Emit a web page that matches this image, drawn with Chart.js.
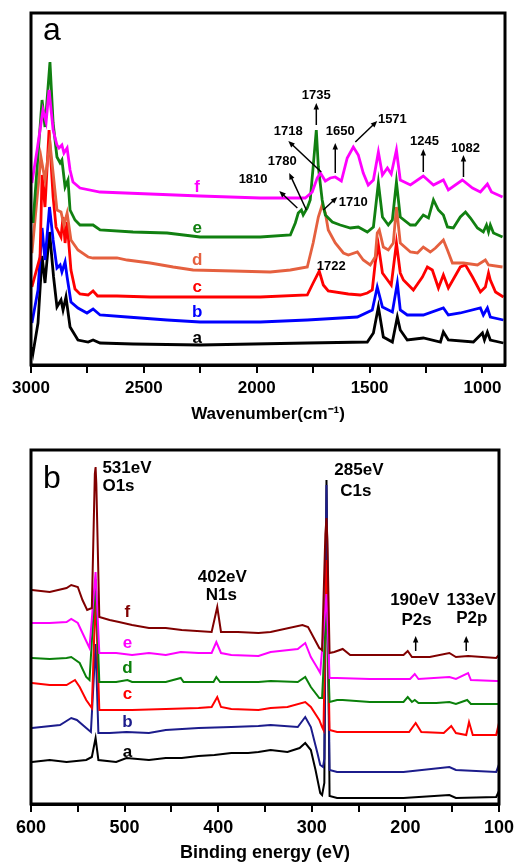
<!DOCTYPE html>
<html>
<head>
<meta charset="utf-8">
<script src="https://cdn.jsdelivr.net/npm/chart.js@4.4.0/dist/chart.umd.min.js"></script>
<style>
  body { margin: 0; background: #fff; }
  #wrap { position: relative; width: 519px; height: 864px; }
  canvas { position: absolute; left: 0; }
</style>
</head>
<body>
<div id="wrap">
  <canvas id="ftir" width="519" height="432" style="top:0"></canvas>
  <canvas id="xps" width="519" height="432" style="top:432px"></canvas>
</div>
<script>
// panel a: FTIR, [wavenumber, intensity (a.u.)]
const ftirA = [[2996,18],[2991,12],[2969,42],[2951,109],[2938,82],[2918,133],[2900,88],[2885,58],[2867,65],[2858,55],[2845,68],[2827,38],[2792,25],[2747,23],[2725,25],[2694,22],[2548,21],[2251,20],[1776,22],[1510,23],[1483,32],[1461,58],[1439,28],[1399,23],[1377,48],[1364,35],[1333,25],[1262,27],[1186,23],[1173,33],[1151,25],[1040,23],[1000,32],[991,25],[978,33],[965,25],[907,22]];
const ftirB = [[2996,42],[2969,75],[2951,137],[2938,105],[2918,158],[2902,125],[2885,97],[2871,100],[2863,93],[2849,103],[2840,88],[2823,63],[2792,57],[2752,52],[2725,56],[2694,50],[2574,48],[2397,45],[2251,43],[1984,43],[1776,45],[1554,48],[1488,55],[1466,78],[1443,58],[1399,53],[1377,82],[1364,55],[1333,50],[1262,50],[1173,57],[1151,50],[1098,52],[1009,57],[996,50],[978,57],[965,48],[907,45]];
const ftirC = [[2996,78],[2960,108],[2951,190],[2938,158],[2920,235],[2902,168],[2889,138],[2867,128],[2858,148],[2849,122],[2840,143],[2823,95],[2805,76],[2783,71],[2747,70],[2725,74],[2705,69],[2619,69],[2472,68],[2251,68],[1984,68],[1776,70],[1750,82],[1723,94],[1705,80],[1683,74],[1594,71],[1541,70],[1510,72],[1488,75],[1475,102],[1461,120],[1443,92],[1404,80],[1381,122],[1364,92],[1350,85],[1306,75],[1266,88],[1244,98],[1222,95],[1195,77],[1173,90],[1151,77],[1098,98],[1075,100],[1044,88],[1009,73],[987,78],[973,92],[965,85],[942,73],[907,68]];
const ftirD = [[2996,112],[2956,208],[2938,185],[2916,222],[2902,192],[2885,155],[2867,153],[2854,140],[2840,152],[2823,125],[2792,115],[2747,108],[2725,107],[2619,107],[2574,105],[2472,102],[2370,98],[2282,95],[2104,94],[1940,93],[1851,95],[1776,98],[1750,122],[1727,148],[1710,160],[1696,152],[1683,135],[1652,122],[1616,112],[1594,110],[1554,113],[1528,105],[1497,100],[1475,108],[1466,132],[1457,135],[1439,118],[1417,115],[1395,122],[1381,158],[1364,122],[1319,113],[1288,112],[1262,118],[1231,113],[1208,117],[1173,125],[1155,115],[1133,102],[1084,102],[1022,100],[987,105],[973,100],[911,98]];
const ftirE = [[2991,142],[2951,265],[2938,238],[2916,303],[2902,242],[2885,208],[2871,202],[2863,205],[2849,178],[2836,185],[2827,155],[2805,145],[2783,140],[2752,140],[2725,140],[2694,135],[2548,133],[2397,132],[2251,128],[1984,128],[1851,130],[1829,142],[1816,152],[1802,155],[1794,150],[1776,157],[1763,165],[1750,198],[1736,235],[1727,198],[1710,165],[1696,150],[1665,143],[1630,140],[1585,137],[1550,138],[1510,133],[1483,138],[1461,182],[1443,148],[1417,140],[1399,145],[1381,183],[1364,148],[1319,140],[1297,140],[1262,150],[1239,147],[1217,165],[1195,155],[1173,150],[1155,138],[1129,137],[1098,148],[1075,153],[1053,147],[1022,137],[996,133],[982,140],[973,133],[965,140],[951,132],[911,128]];
const ftirF = [[2996,182],[2973,215],[2947,255],[2933,243],[2920,275],[2902,235],[2885,220],[2876,217],[2863,220],[2854,212],[2840,217],[2827,195],[2814,183],[2783,177],[2694,173],[2472,171],[2251,169],[1984,167],[1785,167],[1754,173],[1732,187],[1718,192],[1696,184],[1674,187],[1652,188],[1625,184],[1599,207],[1572,218],[1550,210],[1528,192],[1506,180],[1483,185],[1461,213],[1443,190],[1421,197],[1404,191],[1381,215],[1364,185],[1319,180],[1262,189],[1217,180],[1173,185],[1151,175],[1089,185],[1044,177],[1009,173],[978,181],[960,173],[911,168]];
const ftirTicks = [3000, 2750, 2500, 2250, 2000, 1750, 1500, 1250, 1000];

// panel b: XPS survey, [binding energy eV, intensity (a.u.)]
const xpsA = [[599,42],[580,44],[562,42],[541,44],[535,47],[531,66],[528,44],[509,42],[498,46],[474,44],[456,46],[439,46],[421,48],[404,49],[386,51],[368,51],[357,52],[344,54],[326,52],[313,56],[307,61],[301,54],[296,34],[291,11],[289,9],[286.6,21],[284.3,324],[281,8],[273,6],[238,6],[202,6],[153,9],[146,6],[103,7],[101,11],[100,7]];
const xpsB = [[599,76],[569,79],[557,86],[551,84],[541,76],[536,72],[531,160],[528,71],[516,71],[498,72],[474,71],[456,74],[421,76],[386,77],[357,78],[344,79],[315,77],[307,87],[301,77],[294,51],[291,39],[288,37],[286.6,45],[284.3,319],[281,34],[273,32],[238,32],[202,32],[153,37],[146,34],[103,32],[101,37],[100,32]];
const xpsC = [[599,121],[580,119],[562,119],[553,124],[548,117],[541,104],[535,96],[531,210],[527,94],[509,94],[492,94],[456,95],[421,96],[407,97],[401,107],[397,97],[386,95],[357,94],[344,96],[326,97],[307,102],[301,97],[292,84],[289,77],[287.5,74],[284.3,244],[281,74],[273,72],[238,72],[196,72],[189,81],[183,72],[159,71],[151,78],[146,71],[135,69],[132,82],[128,69],[103,69],[101,77],[100,69]];
const xpsD = [[599,146],[580,145],[562,146],[557,147],[548,141],[541,127],[537.5,124],[531,225],[527,122],[509,122],[497,124],[492,122],[456,122],[440,126],[437,122],[405,122],[402,127],[398,122],[357,122],[344,123],[315,122],[307,127],[301,117],[292,106],[289,106],[284.3,200],[281,102],[273,104],[267,104],[238,102],[202,102],[197.5,107],[193,102],[190,104],[186,101],[167,101],[153,102],[146,100],[134,104],[130,100],[103,100],[100,100]];
const xpsE = [[599,181],[580,181],[562,182],[557,185],[550,181],[545,171],[541,163],[537.5,156],[531,232],[527,151],[509,151],[492,149],[474,151],[456,149],[440,152],[421,151],[407,151],[402,162],[397,151],[386,149],[357,148],[344,152],[315,155],[307,161],[301,147],[294,136],[291,131],[284.3,210],[281,126],[273,126],[238,125],[195,125],[190,130],[186,125],[153,127],[146,125],[133,131],[130,124],[103,123],[100,123]];
const xpsF = [[599,214],[580,212],[562,216],[557,219],[550,217],[545,204],[540,194],[535,196],[531.8,330],[531,337],[530.2,320],[527,187],[516,184],[506,182],[492,179],[474,176],[456,176],[439,174],[407,172],[401,197],[397,172],[379,172],[357,171],[344,172],[310,179],[304,177],[292,156],[289,154],[285.5,270],[284.3,286],[283.4,265],[281,151],[276,152],[267,155],[259,149],[238,149],[202,149],[197.5,153],[193,147],[174,147],[153,151],[146,147],[133,148],[103,146],[100,149]];
const xpsTicks = [600, 550, 500, 450, 400, 350, 300, 250, 200, 150, 100];

const FONT = "'Liberation Sans', Arial, Helvetica, sans-serif";
const pts = arr => arr.map(p => ({ x: p[0], y: p[1] }));

function drawArrow(ctx, x1, y1, x2, y2) {
    const a = Math.atan2(y2 - y1, x2 - x1), h = 7;
    ctx.beginPath();
    ctx.moveTo(x1, y1);
    ctx.lineTo(x2 - 4 * Math.cos(a), y2 - 4 * Math.sin(a));
    ctx.stroke();
    ctx.beginPath();
    ctx.moveTo(x2, y2);
    ctx.lineTo(x2 - h * Math.cos(a - 0.4), y2 - h * Math.sin(a - 0.4));
    ctx.lineTo(x2 - h * Math.cos(a + 0.4), y2 - h * Math.sin(a + 0.4));
    ctx.closePath();
    ctx.fill();
}

// frame, panel letter, peak labels, arrows, curve names
function overlay(letter, letterY, texts, arrows) {
    return {
        id: 'overlay',
        afterDatasetsDraw(chart) {
            const { ctx, chartArea: area, scales: { x, y } } = chart;
            ctx.save();
            ctx.strokeStyle = '#000';
            ctx.lineWidth = 3;
            ctx.strokeRect(area.left, area.top, area.right - area.left, area.bottom - area.top);
            ctx.fillStyle = '#000';
            ctx.textBaseline = 'alphabetic';
            ctx.textAlign = 'left';
            ctx.font = '32px ' + FONT;
            ctx.fillText(letter, area.left + 12, area.top + letterY);
            texts.forEach(t => {
                ctx.font = t.font;
                ctx.fillStyle = t.color || '#000';
                ctx.textAlign = t.align || 'center';
                ctx.fillText(t.text, x.getPixelForValue(t.x), y.getPixelForValue(t.y));
            });
            ctx.strokeStyle = '#000';
            ctx.fillStyle = '#000';
            ctx.lineWidth = 1.5;
            arrows.forEach(r => drawArrow(ctx,
                x.getPixelForValue(r[0]), y.getPixelForValue(r[1]),
                x.getPixelForValue(r[2]), y.getPixelForValue(r[3])));
            ctx.restore();
        }
    };
}

function xAxis(min, max, ticks, step, height, title, titlePad, size) {
    return {
        type: 'linear', reverse: true, min: min, max: max,
        afterBuildTicks: s => { s.ticks = ticks.map(v => ({ value: v })); },
        afterFit: s => { s.height = height; },
        ticks: {
            autoSkip: false, maxRotation: 0, padding: 5, color: '#000',
            font: { family: FONT, size: size, weight: 'bold' },
            callback: v => (v % step === 0 ? String(v) : '')
        },
        grid: { drawOnChartArea: false, drawTicks: true, tickLength: 8, color: '#000', lineWidth: 2 },
        border: { display: true, color: '#000', width: 3 },
        title: {
            display: true, text: title, color: '#000',
            font: { family: FONT, size: size, weight: 'bold' },
            padding: { top: 0, bottom: titlePad }
        }
    };
}

function line(data, color, width, order) {
    return { data: pts(data), borderColor: color, borderWidth: width, pointRadius: 0, fill: false, tension: 0, order: order };
}

const peakFont = 'bold 13px ' + FONT;
const nameFont = 'bold 17px ' + FONT;

const ftirTexts = [
    { text: '1735', x: 1736, y: 266, font: peakFont },
    { text: '1718', x: 1860, y: 230, font: peakFont },
    { text: '1650', x: 1630, y: 230, font: peakFont },
    { text: '1571', x: 1399, y: 242, font: peakFont },
    { text: '1245', x: 1257, y: 220, font: peakFont },
    { text: '1082', x: 1075, y: 213, font: peakFont },
    { text: '1780', x: 1887, y: 200, font: peakFont },
    { text: '1810', x: 2016, y: 182, font: peakFont },
    { text: '1710', x: 1572, y: 159, font: peakFont },
    { text: '1722', x: 1670, y: 95, font: peakFont },
    { text: 'f', x: 2264, y: 173, font: nameFont, color: '#ff00ff' },
    { text: 'e', x: 2264, y: 132, font: nameFont, color: '#118011' },
    { text: 'd', x: 2264, y: 100, font: nameFont, color: '#e5603f' },
    { text: 'c', x: 2264, y: 73, font: nameFont, color: '#ff0000' },
    { text: 'b', x: 2264, y: 48, font: nameFont, color: '#0000ff' },
    { text: 'a', x: 2264, y: 22, font: nameFont, color: '#000000' }
];
const ftirArrows = [
    [1736, 240, 1736, 262], [1714, 193, 1860, 224], [1652, 192, 1652, 222],
    [1563, 223, 1466, 244], [1262, 193, 1262, 216], [1084, 188, 1084, 210],
    [1780, 155, 1856, 192], [1820, 157, 1900, 174], [1705, 155, 1643, 168]
];

const xpsTexts = [
    { text: '531eV', x: 523.7, y: 331, font: nameFont, align: 'left' },
    { text: 'O1s', x: 523.7, y: 313, font: nameFont, align: 'left' },
    { text: '402eV', x: 395.6, y: 222, font: nameFont },
    { text: 'N1s', x: 396.6, y: 204, font: nameFont },
    { text: '285eV', x: 275.9, y: 329, font: nameFont, align: 'left' },
    { text: 'C1s', x: 269.5, y: 308, font: nameFont, align: 'left' },
    { text: '190eV', x: 190, y: 199, font: nameFont },
    { text: 'P2s', x: 188, y: 179, font: nameFont },
    { text: '133eV', x: 129.7, y: 199, font: nameFont },
    { text: 'P2p', x: 129, y: 181, font: nameFont },
    { text: 'f', x: 497, y: 187, font: nameFont, color: '#800000' },
    { text: 'e', x: 497, y: 156, font: nameFont, color: '#ff00ff' },
    { text: 'd', x: 497, y: 131, font: nameFont, color: '#0a800a' },
    { text: 'c', x: 497, y: 105, font: nameFont, color: '#ff0000' },
    { text: 'b', x: 497, y: 77, font: nameFont, color: '#1c1c8c' },
    { text: 'a', x: 497, y: 47, font: nameFont, color: '#000000' }
];
const xpsArrows = [[189, 153, 189, 168], [135, 153, 135, 168]];

const common = {
    responsive: false,
    animation: false,
    plugins: { legend: { display: false }, tooltip: { enabled: false } }
};

new Chart(document.getElementById('ftir'), {
    type: 'line',
    data: {
        datasets: [
            line(ftirA, '#000000', 2.8, 5),
            line(ftirB, '#0000ff', 2.8, 4),
            line(ftirC, '#ff0000', 2.8, 3),
            line(ftirD, '#e5603f', 2.8, 2),
            line(ftirE, '#118011', 2.8, 1),
            line(ftirF, '#ff00ff', 2.8, 0)
        ]
    },
    options: Object.assign({}, common, {
        layout: { padding: { left: 31, right: 14, top: 13, bottom: 0 } },
        scales: {
            x: xAxis(900, 3000, ftirTicks, 500, 67, 'Wavenumber(cm\u207B\u00B9)', 7, 17),
            y: { display: false, min: 0, max: 352 }
        }
    }),
    plugins: [overlay('a', 27, ftirTexts, ftirArrows)]
});

new Chart(document.getElementById('xps'), {
    type: 'line',
    data: {
        datasets: [
            line(xpsA, '#000000', 2, 5),
            line(xpsB, '#1c1c8c', 2, 4),
            line(xpsC, '#ff0000', 2, 3),
            line(xpsD, '#0a800a', 2, 2),
            line(xpsE, '#ff00ff', 2, 1),
            line(xpsF, '#800000', 2, 0)
        ]
    },
    options: Object.assign({}, common, {
        layout: { padding: { left: 31, right: 14, top: 18, bottom: 0 } },
        scales: {
            x: xAxis(100, 600, xpsTicks, 100, 60, 'Binding energy (eV)', 0, 18),
            y: { display: false, min: 0, max: 354 }
        }
    }),
    plugins: [overlay('b', 38, xpsTexts, xpsArrows)]
});
</script>
</body>
</html>
